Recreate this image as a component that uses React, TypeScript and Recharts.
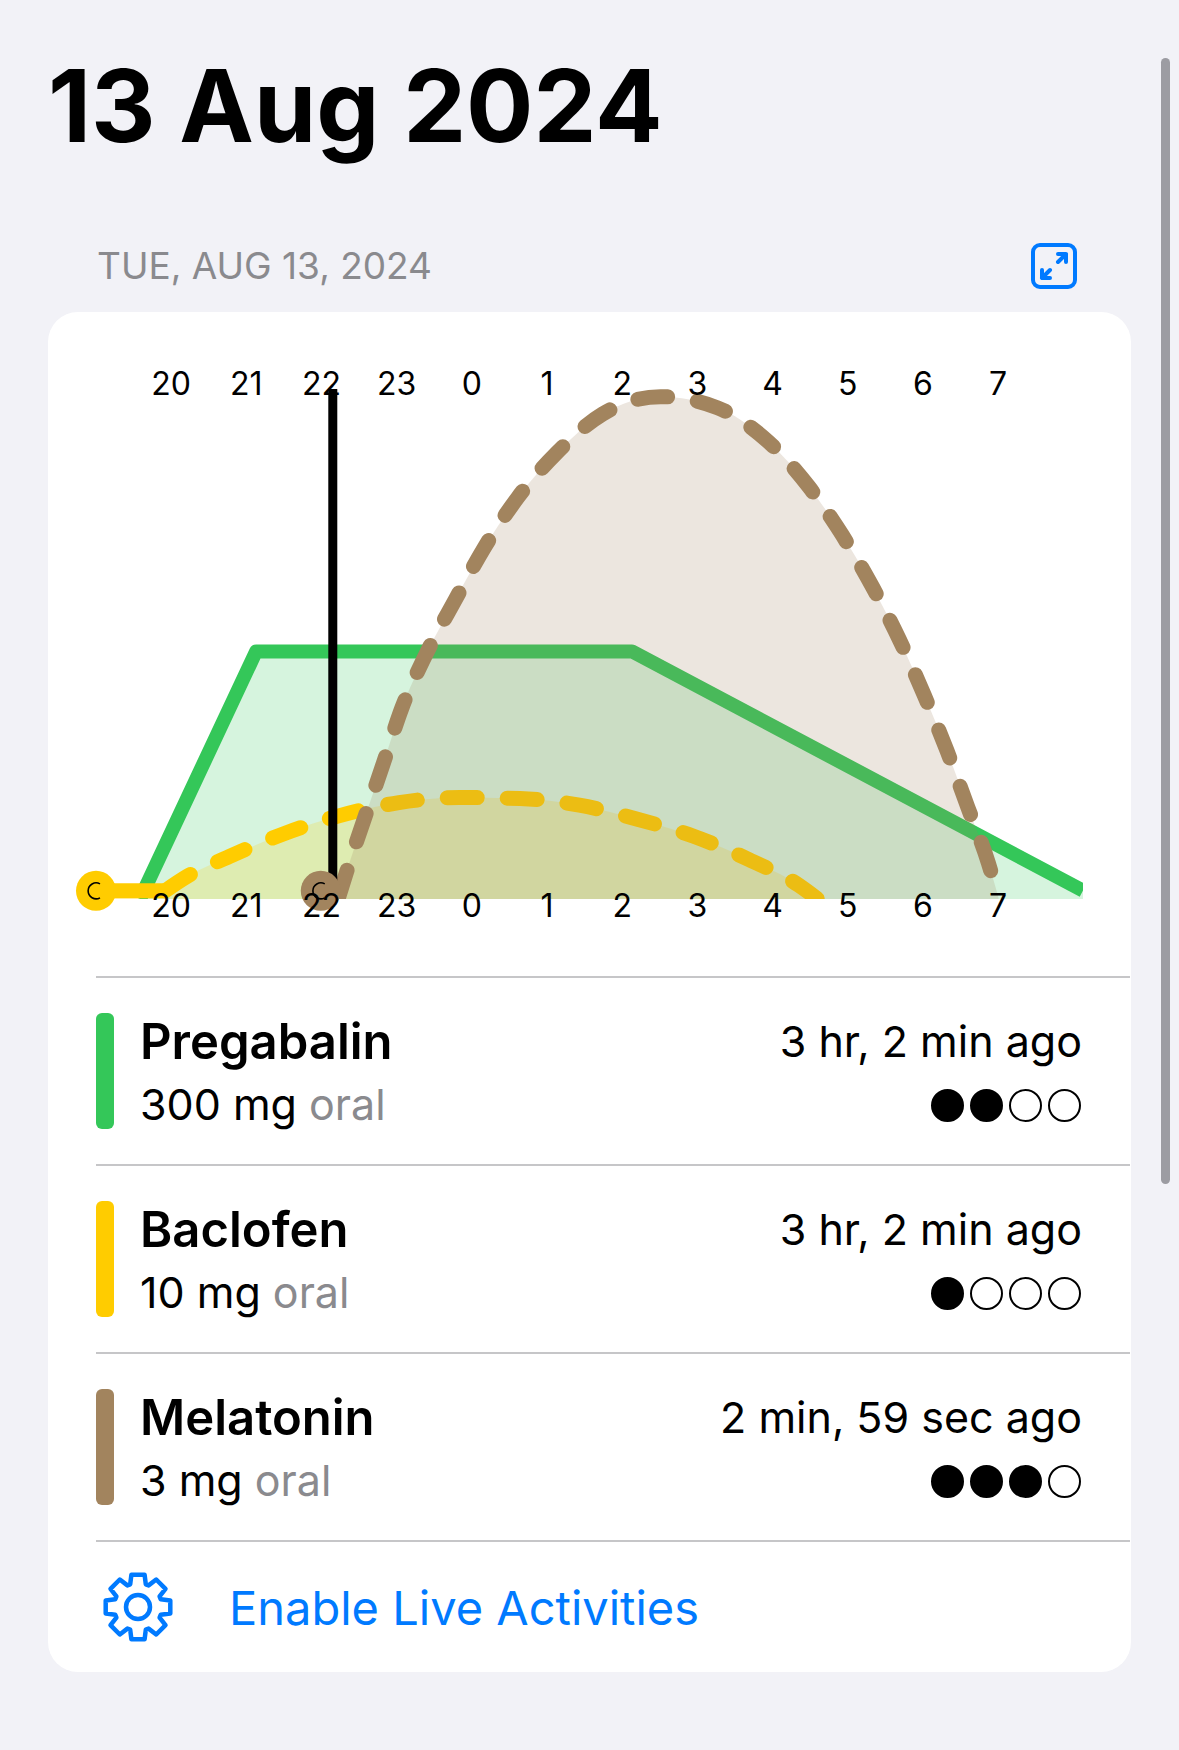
import { ComposedChart, Area, XAxis, YAxis, ReferenceLine, ReferenceDot } from 'recharts';

const hourTicks = [20, 21, 22, 23, 24, 25, 26, 27, 28, 29, 30, 31];
const hourLabels = ['20', '21', '22', '23', '0', '1', '2', '3', '4', '5', '6', '7'];

const pregabalinHours = [19.585, 21.13, 26.13, 32.13];
const pregabalinLevels = [0, 0.4855, 0.4855, 0.0165];

const baclofenFlatHours = [19.0, 19.92];
const baclofenFlatLevels = [0.016, 0.016];

const baclofenHours = [19.92, 20.22, 20.77, 21.5, 22.23, 23.03, 23.84, 24.64, 25.43, 26.19, 26.95, 27.69, 28.35, 28.6];
const baclofenLevels = [0.016, 0.045, 0.083, 0.128, 0.163, 0.189, 0.199, 0.197, 0.184, 0.157, 0.123, 0.077, 0.027, 0];

const melatoninHours = [22.22, 22.32, 22.82, 23.07, 23.39, 23.78, 24.17, 24.61, 25.13, 25.74, 26.51, 27.27, 27.94, 28.48, 28.93, 29.33, 29.69, 30.02, 30.32, 30.6, 30.87, 31.01];
const melatoninLevels = [0, 0.047, 0.265, 0.375, 0.48, 0.587, 0.69, 0.787, 0.875, 0.951, 0.985, 0.963, 0.897, 0.809, 0.713, 0.612, 0.508, 0.399, 0.291, 0.179, 0.071, 0];

const nowHour = 22.15;
const baclofenDoseHour = 19.0;
const melatoninDoseHour = 21.99;
const doseLevel = 0.016;

const drugNames = ['Pregabalin', 'Baclofen', 'Melatonin'];
const drugDoses = ['300 mg', '10 mg', '3 mg'];
const drugAges = ['3 hr, 2 min ago', '3 hr, 2 min ago', '2 min, 59 sec ago'];
const drugTaken = [2, 1, 3];
const drugColors = ['#34c759', '#ffcc00', '#a2845e'];

const series: [string, number[], number[]][] = [
  ['pregabalin', pregabalinHours, pregabalinLevels],
  ['baclofenFlat', baclofenFlatHours, baclofenFlatLevels],
  ['baclofen', baclofenHours, baclofenLevels],
  ['melatonin', melatoninHours, melatoninLevels],
];

const allHours = Array.from(new Set(series.flatMap((s) => s[1]))).sort((a, b) => a - b);
const table = allHours.map((hour) => {
  const row: Record<string, number | null> = { hour };
  series.forEach(([key, hours, levels]) => {
    const i = hours.indexOf(hour);
    row[key] = i >= 0 ? levels[i] : null;
  });
  return row;
});

const font = 'Inter, "Noto Sans", sans-serif';
const blue = '#007aff';

function Label({ x, y, right, size, weight, color, children }: any) {
  const pos = right !== undefined ? { right } : { left: x };
  return (
    <div style={{ position: 'absolute', ...pos, top: y, transform: 'translateY(-50%)', fontSize: size, fontWeight: weight || 400, color: color || '#000', whiteSpace: 'nowrap', lineHeight: 1.2 }}>
      {children}
    </div>
  );
}

function HourTick({ x, y, payload }: any) {
  return (
    <text x={x} y={y} textAnchor="middle" dominantBaseline="central" fontSize={32} fontFamily={font} fill="#000">
      {hourLabels[hourTicks.indexOf(payload.value)]}
    </text>
  );
}

function DoseMark({ cx, cy, fill }: any) {
  return (
    <g>
      <circle cx={cx} cy={cy} r={20} fill={fill} />
      <path d={`M${cx + 4} ${cy - 7} A8 8 0 1 0 ${cx + 4} ${cy + 7}`} fill="none" stroke="#000" strokeWidth={1.6} />
    </g>
  );
}

function gearPath(cx: number, cy: number) {
  const pts: string[] = [];
  for (let i = 0; i < 8; i++) {
    const a = (i * Math.PI) / 4 - Math.PI / 2;
    [[-0.33, 24], [-0.2, 33], [0.2, 33], [0.33, 24]].forEach(([d, r], j) => {
      const px = cx + r * Math.cos(a + d);
      const py = cy + r * Math.sin(a + d);
      pts.push(`${i === 0 && j === 0 ? 'M' : 'L'}${px.toFixed(1)} ${py.toFixed(1)}`);
    });
  }
  return pts.join(' ') + ' Z';
}

function Row({ index }: { index: number }) {
  const top = 188 * index;
  return (
    <>
      <div style={{ position: 'absolute', left: 96, top: 1013 + top, width: 18, height: 116, borderRadius: 6, background: drugColors[index] }} />
      <Label x={140} y={1042 + top} size={49} weight={600}>{drugNames[index]}</Label>
      <Label x={140} y={1105 + top} size={43}>
        {drugDoses[index]} <span style={{ color: '#8a8a8e' }}>oral</span>
      </Label>
      <Label right={97} y={1042 + top} size={43}>{drugAges[index]}</Label>
      {[947, 986, 1025, 1064].map((cx, i) => (
        <div
          key={cx}
          style={{
            position: 'absolute',
            left: cx - 16.5,
            top: 1089 + top,
            width: 33,
            height: 33,
            boxSizing: 'border-box',
            borderRadius: '50%',
            border: '2px solid #000',
            background: i < drugTaken[index] ? '#000' : 'transparent',
          }}
        />
      ))}
      <div style={{ position: 'absolute', left: 96, top: 976 + top, width: 1034, height: 1.5, background: '#c6c6c8' }} />
    </>
  );
}

export default function App() {
  return (
    <div style={{ position: 'absolute', left: 0, top: 0, width: 1179, height: 1750, background: '#f2f2f7', overflow: 'hidden', fontFamily: font }}>
      <Label x={48} y={106} size={100} weight={700}>13 Aug 2024</Label>
      <Label x={97} y={266} size={37} color="#8a8a8e">TUE, AUG 13, 2024</Label>
      <svg style={{ position: 'absolute', left: 1029, top: 241, width: 50, height: 50 }} viewBox="0 0 50 50" fill="none" stroke={blue} strokeWidth={4} strokeLinecap="round" strokeLinejoin="round">
        <rect x="4" y="4" width="42" height="42" rx="7" />
        <path d="M29 21 L37 13 M29 13 H37 V21 M21 29 L13 37 M13 29 V37 H21" />
      </svg>
      <div style={{ position: 'absolute', left: 1161, top: 58, width: 9, height: 1126, borderRadius: 5, background: '#9c9ca2' }} />
      <div style={{ position: 'absolute', left: 48, top: 312, width: 1083, height: 1360, borderRadius: 30, background: '#fff' }} />

      <div style={{ position: 'absolute', left: 0, top: 320 }}>
        <ComposedChart width={1179} height={640} data={table} margin={{ top: 29, right: 96, bottom: 21, left: 96 }}>
          <XAxis xAxisId="top" orientation="top" dataKey="hour" type="number" domain={[19, 32.13]} allowDataOverflow ticks={hourTicks} height={40} axisLine={false} tickLine={false} tick={<HourTick />} tickMargin={0} interval={0} />
          <XAxis dataKey="hour" type="number" domain={[19, 32.13]} allowDataOverflow ticks={hourTicks} height={40} axisLine={false} tickLine={false} tick={<HourTick />} tickMargin={0} interval={0} />
          <YAxis hide domain={[0, 1]} allowDataOverflow />
          <Area dataKey="pregabalin" type="linear" connectNulls isAnimationActive={false} stroke={drugColors[0]} strokeWidth={14} strokeLinejoin="round" fill={drugColors[0]} fillOpacity={0.2} dot={false} activeDot={false} />
          <Area dataKey="baclofenFlat" type="linear" connectNulls isAnimationActive={false} stroke={drugColors[1]} strokeWidth={15} fill={drugColors[1]} fillOpacity={0.2} dot={false} activeDot={false} />
          <Area dataKey="baclofen" type="monotone" connectNulls isAnimationActive={false} stroke={drugColors[1]} strokeWidth={15} strokeDasharray="30 30" strokeLinecap="round" fill={drugColors[1]} fillOpacity={0.2} dot={false} activeDot={false} />
          <Area dataKey="melatonin" type="monotone" connectNulls isAnimationActive={false} stroke={drugColors[2]} strokeWidth={15} strokeDasharray="30 30" strokeLinecap="round" fill={drugColors[2]} fillOpacity={0.2} dot={false} activeDot={false} />
          <ReferenceDot x={baclofenDoseHour} y={doseLevel} ifOverflow="hidden" shape={<DoseMark />} fill={drugColors[1]} />
          <ReferenceDot x={melatoninDoseHour} y={doseLevel} ifOverflow="hidden" shape={<DoseMark />} fill={drugColors[2]} />
          <ReferenceLine x={nowHour} stroke="#000" strokeWidth={9} />
        </ComposedChart>
      </div>

      {drugNames.map((name, i) => (
        <Row key={name} index={i} />
      ))}
      <div style={{ position: 'absolute', left: 96, top: 1540, width: 1034, height: 1.5, background: '#c6c6c8' }} />
      <svg style={{ position: 'absolute', left: 98, top: 1567, width: 80, height: 80 }} viewBox="98 1567 80 80" fill="none" stroke={blue} strokeWidth={4.5} strokeLinejoin="round">
        <path d={gearPath(138, 1607)} />
        <circle cx={138} cy={1607} r={12} />
      </svg>
      <Label x={229} y={1608} size={47} color={blue}>Enable Live Activities</Label>
    </div>
  );
}
